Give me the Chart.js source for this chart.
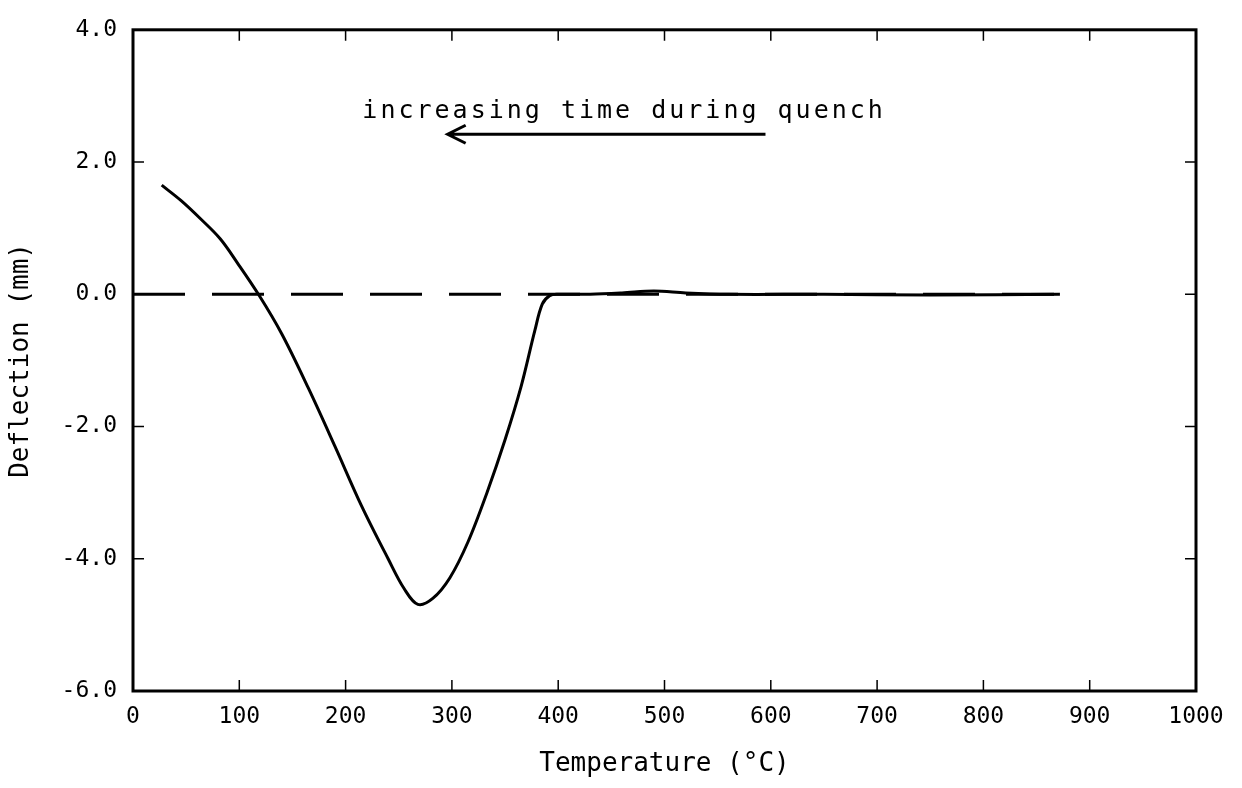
<!DOCTYPE html>
<html>
<head>
<meta charset="utf-8">
<script src="https://cdn.jsdelivr.net/npm/chart.js@4"></script>
<style>
  html, body { margin: 0; padding: 0; background: #fff; }
  #wrap { width: 1242px; height: 788px; }
</style>
</head>
<body>
<div id="wrap"><canvas id="chart" width="1242" height="788"></canvas></div>
<script>
const temperature = [27, 45, 63, 82, 98, 118, 140, 165, 190, 215, 240, 255, 268, 282, 298, 315, 333, 350, 365, 378, 385, 392, 400, 430, 460, 490, 520, 560, 650, 750, 872];
const deflection = [1.65, 1.42, 1.15, 0.84, 0.48, 0.0, -0.60, -1.42, -2.30, -3.20, -4.00, -4.45, -4.69, -4.60, -4.29, -3.75, -3.00, -2.20, -1.40, -0.55, -0.15, -0.02, 0.0, 0.0, 0.02, 0.05, 0.02, 0.0, 0.0, -0.01, 0.0];

// zero reference line
const zeroLineX = [0, 872];
const zeroLineY = [0, 0];

const xTicks = [0, 100, 200, 300, 400, 500, 600, 700, 800, 900, 1000];
const yTicks = [-6, -4, -2, 0, 2, 4];

const note = { text: 'increasing time during quench', x: 462, y: 2.76, arrowFrom: 595, arrowTo: 296, arrowY: 2.42 };

const FONT = "'DejaVu Sans Mono', monospace";

const framePlugin = {
  id: 'frame',
  afterDatasetsDraw(chart) {
    const { ctx, chartArea: a, scales: { x, y } } = chart;
    ctx.save();
    ctx.strokeStyle = '#000';
    ctx.lineWidth = 3;
    ctx.strokeRect(a.left, a.top, a.right - a.left, a.bottom - a.top);
    ctx.lineWidth = 1.5;
    const len = 11;
    xTicks.forEach(v => {
      const px = x.getPixelForValue(v);
      ctx.beginPath();
      ctx.moveTo(px, a.bottom); ctx.lineTo(px, a.bottom - len);
      ctx.moveTo(px, a.top); ctx.lineTo(px, a.top + len);
      ctx.stroke();
    });
    yTicks.forEach(v => {
      const py = y.getPixelForValue(v);
      ctx.beginPath();
      ctx.moveTo(a.left, py); ctx.lineTo(a.left + len, py);
      ctx.moveTo(a.right, py); ctx.lineTo(a.right - len, py);
      ctx.stroke();
    });

    // annotation + arrow
    ctx.font = '25px ' + FONT;
    ctx.letterSpacing = '3px';
    ctx.fillStyle = '#000';
    ctx.textAlign = 'center';
    ctx.textBaseline = 'middle';
    ctx.fillText(note.text, x.getPixelForValue(note.x), y.getPixelForValue(note.y));
    const ax0 = x.getPixelForValue(note.arrowFrom);
    const ax1 = x.getPixelForValue(note.arrowTo);
    const ay = y.getPixelForValue(note.arrowY);
    ctx.lineWidth = 3;
    ctx.beginPath();
    ctx.moveTo(ax0, ay); ctx.lineTo(ax1, ay);
    ctx.moveTo(ax1 + 18, ay - 9); ctx.lineTo(ax1, ay); ctx.lineTo(ax1 + 18, ay + 9);
    ctx.stroke();
    ctx.restore();
  }
};

new Chart(document.getElementById('chart'), {
  type: 'line',
  data: {
    datasets: [
      {
        data: temperature.map((t, i) => ({ x: t, y: deflection[i] })),
        borderColor: '#000',
        borderWidth: 3,
        pointRadius: 0,
        tension: 0.35
      },
      {
        data: zeroLineX.map((t, i) => ({ x: t, y: zeroLineY[i] })),
        borderColor: '#000',
        borderWidth: 3,
        borderDash: [52, 27],
        pointRadius: 0
      }
    ]
  },
  options: {
    responsive: false,
    animation: false,
    layout: { padding: { top: 20, right: 46, left: 0, bottom: 0 } },
    plugins: { legend: { display: false }, tooltip: { enabled: false } },
    scales: {
      x: {
        type: 'linear',
        min: 0, max: 1000,
        grid: { display: false, drawTicks: false },
        border: { display: false },
        afterBuildTicks: s => { s.ticks = xTicks.map(v => ({ value: v })); },
        afterFit: s => { s.height = 97; },
        ticks: {
          color: '#000',
          padding: 12,
          font: { family: FONT, size: 23 },
          maxRotation: 0,
          callback: v => String(v)
        },
        title: {
          display: true,
          text: 'Temperature (°C)',
          color: '#000',
          font: { family: FONT, size: 26 },
          padding: { top: 0, bottom: 8 }
        }
      },
      y: {
        min: -6, max: 4,
        grid: { display: false, drawTicks: false },
        border: { display: false },
        afterBuildTicks: s => { s.ticks = yTicks.map(v => ({ value: v })); },
        afterFit: s => { s.width = 133; },
        ticks: {
          color: '#000',
          padding: 16,
          font: { family: FONT, size: 23 },
          callback: v => v.toFixed(1)
        },
        title: {
          display: true,
          text: 'Deflection (mm)',
          color: '#000',
          font: { family: FONT, size: 26 },
          padding: { top: 6, bottom: 0 }
        }
      }
    }
  },
  plugins: [framePlugin]
});
</script>
</body>
</html>
